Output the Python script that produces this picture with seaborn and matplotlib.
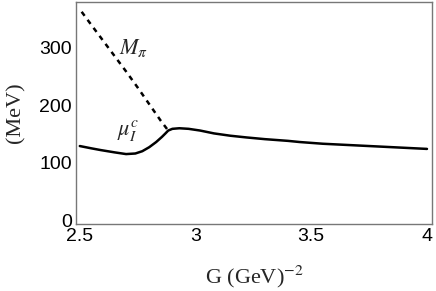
import pandas as pd
import matplotlib
matplotlib.use("Agg")
import matplotlib.pyplot as plt
import seaborn as sns

# mu_I^c (solid)
g_mu = [2.50, 2.55, 2.59, 2.65, 2.70, 2.74, 2.77, 2.80, 2.83, 2.855, 2.87, 2.882,
        2.90, 2.93, 2.97, 3.02, 3.08, 3.15, 3.22, 3.30, 3.40, 3.45, 3.55, 3.65,
        3.75, 3.85, 3.95, 4.00]
mu_vals = [129, 125, 122, 118, 115, 116, 120, 127, 136, 145, 151, 156,
           159, 160, 159, 156, 151, 147, 144, 141, 138, 136, 133, 131,
           129, 127, 125, 124]

# M_pi (dashed)
g_pi = [2.508, 2.55, 2.60, 2.65, 2.70, 2.75, 2.80, 2.85, 2.882]
mpi_vals = [363, 340, 313, 286, 259, 231, 202, 173, 156]

sns.set_style("white")
plt.rcParams["axes.edgecolor"] = "#777777"
plt.rcParams["axes.linewidth"] = 1.0
plt.rcParams["mathtext.fontset"] = "stix"

fig = plt.figure(figsize=(4.36, 2.91), dpi=100)
ax = fig.add_axes([0.174, 0.230, 0.817, 0.763])

df_mu = pd.DataFrame({"G": g_mu, "val": mu_vals})
df_pi = pd.DataFrame({"G": g_pi, "val": mpi_vals})
sns.lineplot(data=df_mu, x="G", y="val", ax=ax, color="black", lw=1.8)
sns.lineplot(data=df_pi, x="G", y="val", ax=ax, color="black", lw=1.8,
             linestyle=(0, (2, 2)))

ax.set_xlim(2.483, 4.022)
ax.set_ylim(-7, 380)
ax.set_xticks([2.5, 3, 3.5, 4])
ax.set_xticklabels(["2.5", "3", "3.5", "4"])
ax.set_yticks([0, 100, 200, 300])
ax.tick_params(direction="in", length=4, width=0.8, color="#777777",
               labelsize=14, pad=3, labelcolor="black")
for lab in ax.get_xticklabels() + ax.get_yticklabels():
    lab.set_family("Liberation Sans")

ax.set_xlabel(r"G (GeV)$^{-2}$", family="Liberation Serif", fontsize=16, labelpad=13)
ax.set_ylabel("(MeV)", family="Liberation Serif", fontsize=16, labelpad=10)

ax.text(2.67, 300, r"$M_{\pi}$", fontsize=16, ha="left", va="center")
ax.text(2.66, 156, r"$\mu_I^c$", fontsize=16, ha="left", va="center")

fig.savefig("out.png", dpi=100)
